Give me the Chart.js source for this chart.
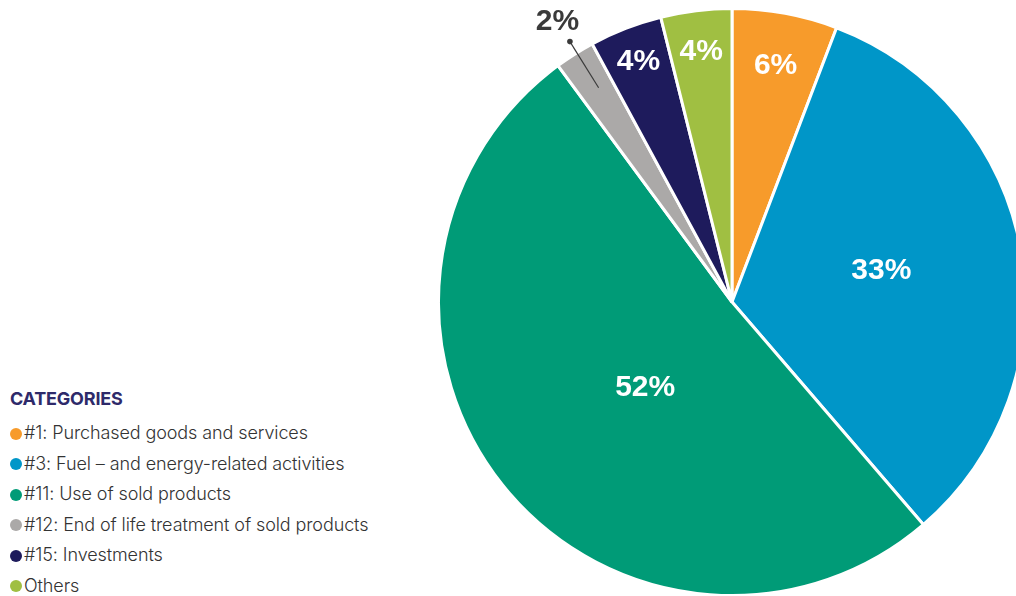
<!DOCTYPE html>
<html>
<head>
<meta charset="utf-8">
<script src="https://cdn.jsdelivr.net/npm/chart.js@4"></script>
<style>
  html, body { margin: 0; padding: 0; background: #fff; overflow: hidden; width: 1016px; height: 596px; }
  #wrap { position: absolute; left: 437px; top: 7px; width: 590px; height: 590px; }
  #legend { position: absolute; left: 10px; top: 388px; font-family: Inter, "Noto Sans", sans-serif; }
  #legend .title { font-weight: 700; font-size: 18px; color: #2e2a6a; letter-spacing: -0.2px; margin-bottom: 9px; }
  #legend .item { font-size: 18px; font-weight: 300; color: #333; height: 30.6px; line-height: 30.6px; white-space: nowrap; letter-spacing: -0.1px; }
  #legend .dot { display: inline-block; width: 12px; height: 12px; border-radius: 50%; margin-right: 2px; vertical-align: -0.5px; }
</style>
</head>
<body>
<div id="wrap"><canvas id="pie"></canvas></div>
<div id="legend"></div>
<script>
const categories = [
  "#1: Purchased goods and services",
  "#3: Fuel – and energy-related activities",
  "#11: Use of sold products",
  "#12: End of life treatment of sold products",
  "#15: Investments",
  "Others"
];
const shares = [5.8, 32.9, 51.2, 2.2, 4.0, 3.9];
const shareLabels = ["6%", "33%", "52%", "2%", "4%", "4%"];
const colors = ["#f79b2b", "#0096c8", "#009b77", "#aba9a8", "#1e1b5c", "#a0bf42"];

// label placement: fraction of outer radius, and a small turn (degrees) off the slice middle
const labelRadius = [0.82, 0.52, 0.415, 1.125, 0.88, 0.86];
const labelTurn = [0, -2, -6, 0.5, 0, 0];

const legendEl = document.getElementById("legend");
legendEl.innerHTML = '<div class="title">CATEGORIES</div>' +
  categories.map((c, i) =>
    `<div class="item"><span class="dot" style="background:${colors[i]}"></span>${c}</div>`
  ).join("");

const sliceLabels = {
  id: "sliceLabels",
  afterDatasetsDraw(chart) {
    const ctx = chart.ctx;
    const arcs = chart.getDatasetMeta(0).data;
    ctx.save();
    ctx.textAlign = "center";
    ctx.textBaseline = "middle";
    ctx.font = "bold 30px 'Liberation Sans', Arial, sans-serif";
    arcs.forEach((arc, i) => {
      const { x, y, startAngle, endAngle, outerRadius } = arc.getProps(["x", "y", "startAngle", "endAngle", "outerRadius"], true);
      const mid = (startAngle + endAngle) / 2 + labelTurn[i] * Math.PI / 180;
      const r = outerRadius * labelRadius[i];
      const outside = labelRadius[i] > 1;
      if (outside) {
        // leader line for the small slice
        const r0 = outerRadius * 0.86, r1 = outerRadius * 1.045;
        ctx.strokeStyle = "#3a3a3a";
        ctx.lineWidth = 1.2;
        ctx.beginPath();
        ctx.moveTo(x + Math.cos(mid) * r0, y + Math.sin(mid) * r0);
        ctx.lineTo(x + Math.cos(mid) * r1, y + Math.sin(mid) * r1);
        ctx.stroke();
        ctx.fillStyle = "#3a3a3a";
        ctx.beginPath();
        ctx.arc(x + Math.cos(mid) * r1, y + Math.sin(mid) * r1, 2.8, 0, Math.PI * 2);
        ctx.fill();
      }
      ctx.fillStyle = outside ? "#3a3a3a" : "#ffffff";
      ctx.fillText(shareLabels[i], x + Math.cos(mid) * r, y + Math.sin(mid) * r);
    });
    ctx.restore();
  }
};

new Chart(document.getElementById("pie"), {
  type: "pie",
  data: {
    labels: categories,
    datasets: [{
      data: shares,
      backgroundColor: colors,
      borderColor: "#ffffff",
      borderWidth: 3
    }]
  },
  options: {
    responsive: true,
    maintainAspectRatio: false,
    animation: false,
    layout: { padding: 0 },
    plugins: {
      legend: { display: false },
      tooltip: { enabled: false }
    }
  },
  plugins: [sliceLabels]
});
</script>
</body>
</html>
